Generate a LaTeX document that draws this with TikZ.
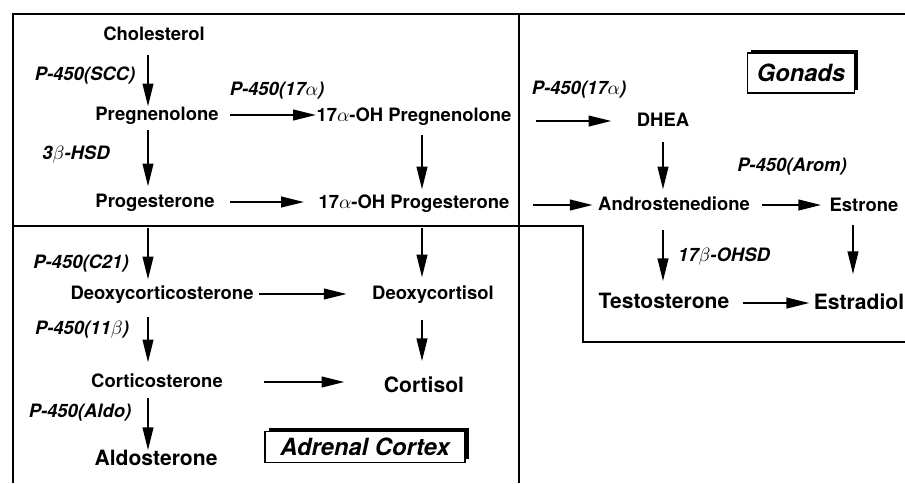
\documentclass[tikz,border=0pt]{standalone}
\usepackage{fontspec}
\setmainfont{TeX Gyre Heros}
\usepackage{tikz}
\usetikzlibrary{arrows.meta}
\usetikzlibrary{shadows}

\begin{document}
\begin{tikzpicture}[
    font=\fontsize{10.5}{12.6}\selectfont,
    sp/.style={font=\fontsize{10.5}{12.6}\selectfont\bfseries, inner sep=0pt, text height=0.26cm, text depth=0.06cm},
    spbig/.style={font=\fontsize{12}{14.4}\selectfont\bfseries, inner sep=0pt, text height=0.30cm, text depth=0.07cm},
    enz/.style={font=\fontsize{10.5}{12.6}\selectfont\bfseries\itshape, inner sep=0pt},
    arr/.style={-{Triangle[length=0.46cm,width=0.21cm]}, line width=1.4pt},
    frame/.style={line width=1.3pt},
    tissue/.style={draw, line width=0.6pt, fill=white, font=\fontsize{13.5}{16}\selectfont\bfseries\itshape,
        drop shadow={shadow xshift=0.07cm, shadow yshift=0.07cm, opacity=1, fill=black}}
]

\useasboundingbox (0,0) rectangle (18.1,-9.66);

% Compartment lines
\draw[frame] (18.1,-0.28) -- (0.26,-0.28) -- (0.26,-9.66);
\draw[frame] (10.38,-0.28) -- (10.38,-9.66);
\draw[frame] (0.26,-4.52) -- (11.66,-4.52) -- (11.66,-6.84) -- (18.1,-6.84);

% Arrow columns
\coordinate (colA) at (2.96,0);
\coordinate (colB) at (8.44,0);
\coordinate (colC) at (13.26,0);
\coordinate (colD) at (17.06,0);

% Steroids
\node[sp] (chol) at (3.08,-0.70) {Cholesterol};
\node[sp] (preg) at (3.14,-2.30) {Pregnenolone};
\node[sp] (prog) at (3.10,-4.04) {Progesterone};
\node[sp] (ohpreg) at (8.28,-2.32) {17$\alpha$-OH Pregnenolone};
\node[sp] (ohprog) at (8.28,-4.06) {17$\alpha$-OH Progesterone};
\node[sp] (dhea) at (13.26,-2.42) {DHEA};
\node[sp] (andro) at (13.48,-4.10) {Androstenedione};
\node[sp] (estrone) at (17.28,-4.12) {Estrone};
\node[spbig] (testo) at (13.28,-6.06) {Testosterone};
\node[spbig] (estradiol) at (17.18,-6.08) {Estradiol};
\node[sp] (doc) at (3.24,-5.88) {Deoxycorticosterone};
\node[sp] (dcort) at (8.66,-5.88) {Deoxycortisol};
\node[sp] (cortico) at (3.14,-7.64) {Corticosterone};
\node[spbig] (cortisol) at (8.48,-7.74) {Cortisol};
\node[spbig] (aldo) at (3.12,-9.20) {Aldosterone};

% Enzymes
\node[enz] (lSCC) at (1.70,-1.52) {P-450(SCC)};
\node[enz] (lLyaseA) at (5.54,-1.82) {P-450(17$\alpha$)};
\node[enz] (lHSD) at (1.52,-3.10) {3$\beta$-HSD};
\node[enz] (lLyaseB) at (11.58,-1.80) {P-450(17$\alpha$)};
\node[enz] (lArom) at (15.84,-3.34) {P-450(Arom)};
\node[enz] (lOHSD) at (14.48,-5.14) {17$\beta$-OHSD};
\node[enz] (lC21) at (1.62,-5.26) {P-450(C21)};
\node[enz] (l11b) at (1.64,-6.60) {P-450(11$\beta$)};
\node[enz] (lAldo) at (1.60,-8.26) {P-450(Aldo)};

% Tissue labels
\node[tissue, minimum width=2.14cm, minimum height=0.80cm] (gonads) at (16.02,-1.46) {Gonads};
\node[tissue, minimum width=4.0cm, minimum height=0.62cm] (adrenal) at (7.30,-8.94) {Adrenal Cortex};

% Vertical steps
\draw[arr, shorten <=0.24cm] (chol.south -| colA) -- (preg.north -| colA);
\draw[arr, shorten <=0.14cm, shorten >=0.14cm] (preg.south -| colA) -- (prog.north -| colA);
\draw[arr, shorten <=0.36cm, shorten >=0.12cm] (prog.south -| colA) -- (doc.north -| colA);
\draw[arr, shorten <=0.30cm, shorten >=0.22cm] (doc.south -| colA) -- (cortico.north -| colA);
\draw[arr, shorten <=0.16cm] (cortico.south -| colA) -- (aldo.north -| colA);
\draw[arr, shorten <=0.22cm, shorten >=0.10cm] (ohpreg.south -| colB) -- (ohprog.north -| colB);
\draw[arr, shorten <=0.34cm, shorten >=0.16cm] (ohprog.south -| colB) -- (dcort.north -| colB);
\draw[arr, shorten <=0.36cm, shorten >=0.32cm] (dcort.south -| colB) -- (cortisol.north -| colB);
\draw[arr, shorten <=0.26cm, shorten >=0.14cm] (dhea.south -| colC) -- (andro.north -| colC);
\draw[arr, shorten <=0.34cm, shorten >=0.24cm] (andro.south -| colC) -- (testo.north -| colC);
\draw[arr, shorten <=0.22cm, shorten >=0.40cm] (estrone.south -| colD) -- (estradiol.north -| colD);

% Horizontal steps
\draw[arr, shorten <=0.23cm] (preg.east) -- (preg.east -| ohpreg.west);
\draw[arr, shorten <=0.31cm, shorten >=0.28cm] (prog.east) -- (prog.east -| ohprog.west);
\draw[arr, shorten <=0.10cm, shorten >=0.50cm] (doc.east) -- (doc.east -| dcort.west);
\draw[arr, shorten <=0.81cm, shorten >=0.78cm] (cortico.east) -- (cortico.east -| cortisol.west);
\draw[arr, shorten <=0.48cm, shorten >=0.50cm] (ohpreg.east |- dhea.west) -- (dhea.west);
\draw[arr, shorten <=0.46cm, shorten >=0.10cm] (ohprog.east |- andro.west) -- (andro.west);
\draw[arr, shorten <=0.24cm, shorten >=0.16cm] (andro.east) -- (andro.east -| estrone.west);
\draw[arr, shorten <=0.26cm, shorten >=0.08cm] (testo.east) -- (testo.east -| estradiol.west);

\end{tikzpicture}
\end{document}
